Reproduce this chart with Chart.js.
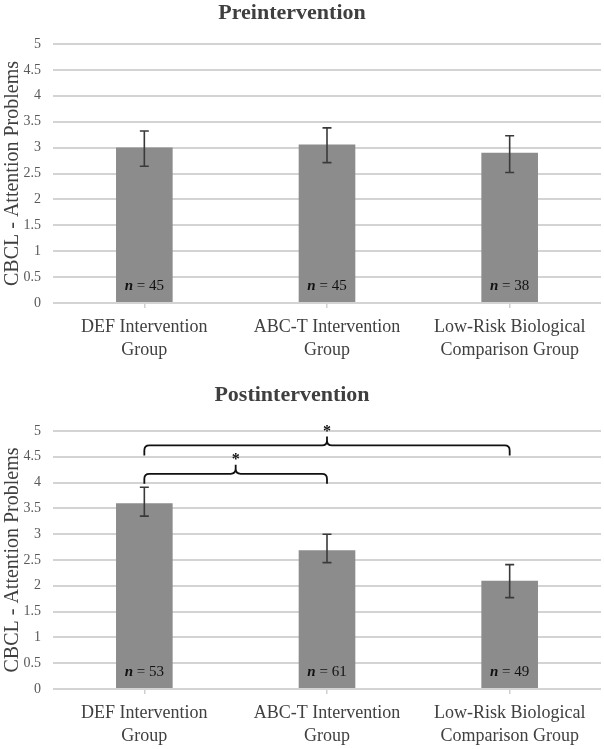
<!DOCTYPE html>
<html>
<head>
<meta charset="utf-8">
<script src="https://cdn.jsdelivr.net/npm/chart.js@4.4.0/dist/chart.umd.min.js"></script>
<style>
  html, body { margin: 0; padding: 0; background: #fff; }
  canvas { position: absolute; left: 0; }
  #pre { top: 0; }
  #post { top: 370px; }
</style>
</head>
<body>
<canvas id="pre" width="604" height="372"></canvas>
<canvas id="post" width="604" height="379"></canvas>
<script>
// Données
const groups = [['DEF Intervention', 'Group'], ['ABC-T Intervention', 'Group'], ['Low-Risk Biological', 'Comparison Group']];

const preMeans = [3.0, 3.06, 2.90];
const preErrLow = [2.64, 2.71, 2.52];
const preErrHigh = [3.32, 3.38, 3.23];
const preN = [45, 45, 38];

const postMeans = [3.60, 2.69, 2.10];
const postErrLow = [3.35, 2.45, 1.77];
const postErrHigh = [3.91, 3.00, 2.41];
const postN = [53, 61, 49];

// accolades de significativité (post)
const bracketFrom = [0, 0];
const bracketTo = [1, 2];
const bracketLevel = [4.17, 4.72];
const bracketMark = ['*', '*'];

const FONT = "'Liberation Serif', 'Times New Roman', serif";

// titre, barres d'erreur, étiquettes n, accolades
const extrasPlugin = {
    id: 'extras',
    afterDatasetsDraw(chart, args, opts) {
        const ctx = chart.ctx;
        const xs = chart.scales.x, ys = chart.scales.y;
        ctx.save();
        // titre (un peu décalé à gauche comme dans l'original)
        ctx.fillStyle = '#3f3f3f';
        ctx.font = 'bold 22px ' + FONT;
        ctx.textAlign = 'center';
        ctx.textBaseline = 'middle';
        ctx.fillText(opts.title, 292, opts.titleY);
        // barres d'erreur
        ctx.strokeStyle = '#3a3a3a';
        ctx.lineWidth = 1.6;
        opts.low.forEach((lo, i) => {
            const x = xs.getPixelForValue(i);
            const y1 = ys.getPixelForValue(lo), y2 = ys.getPixelForValue(opts.high[i]);
            ctx.beginPath();
            ctx.moveTo(x, y1); ctx.lineTo(x, y2);
            ctx.moveTo(x - 4.5, y1); ctx.lineTo(x + 4.5, y1);
            ctx.moveTo(x - 4.5, y2); ctx.lineTo(x + 4.5, y2);
            ctx.stroke();
        });
        // n = ..
        ctx.fillStyle = '#111';
        ctx.textAlign = 'left';
        opts.n.forEach((n, i) => {
            const x = xs.getPixelForValue(i);
            const y = ys.getPixelForValue(0) - 17;
            ctx.font = 'italic bold 15px ' + FONT;
            const a = 'n';
            const wa = ctx.measureText(a).width;
            ctx.font = '15px ' + FONT;
            const b = ' = ' + n;
            const wb = ctx.measureText(b).width;
            const x0 = x - (wa + wb) / 2;
            ctx.font = 'italic bold 15px ' + FONT;
            ctx.fillText(a, x0, y);
            ctx.font = '15px ' + FONT;
            ctx.fillText(b, x0 + wa, y);
        });
        // accolades
        if (opts.brackets) {
            const br = opts.brackets;
            ctx.strokeStyle = '#111';
            ctx.lineWidth = 1.8;
            br.from.forEach((f, k) => {
                const xa = xs.getPixelForValue(f), xb = xs.getPixelForValue(br.to[k]);
                const y = ys.getPixelForValue(br.level[k]);
                const xm = (xa + xb) / 2;
                const r = 5, leg = 10, tip = 9;
                ctx.beginPath();
                ctx.moveTo(xa, y + leg);
                ctx.lineTo(xa, y + r);
                ctx.quadraticCurveTo(xa, y, xa + r, y);
                ctx.lineTo(xm - r, y);
                ctx.quadraticCurveTo(xm, y, xm, y - r);
                ctx.lineTo(xm, y - tip);
                ctx.moveTo(xm, y - r);
                ctx.quadraticCurveTo(xm, y, xm + r, y);
                ctx.lineTo(xb - r, y);
                ctx.quadraticCurveTo(xb, y, xb, y + r);
                ctx.lineTo(xb, y + leg);
                ctx.stroke();
                ctx.fillStyle = '#111';
                ctx.font = 'bold 16px ' + FONT;
                ctx.textAlign = 'center';
                ctx.fillText(br.mark[k], xm, y - tip - 5);
            });
        }
        ctx.restore();
    }
};

function makeChart(id, title, titleY, padTop, axisH, means, low, high, n, brackets) {
    return new Chart(document.getElementById(id), {
        type: 'bar',
        data: {
            labels: groups,
            datasets: [{
                data: means,
                backgroundColor: '#8c8c8c',
                categoryPercentage: 1,
                barPercentage: 0.31
            }]
        },
        options: {
            responsive: false,
            animation: false,
            layout: { padding: { left: 0, right: 3, top: padTop, bottom: 0 } },
            plugins: {
                legend: { display: false },
                tooltip: { enabled: false },
                title: { display: false },
                extras: { title: title, titleY: titleY, low: low, high: high, n: n, brackets: brackets }
            },
            scales: {
                x: {
                    border: { display: false },
                    grid: { display: true, drawOnChartArea: false, offset: false, tickLength: 5, color: '#cfcfcf', lineWidth: 1.5 },
                    ticks: { color: '#404040', padding: 8, font: { family: FONT, size: 18, lineHeight: 1.28 }, maxRotation: 0 },
                    afterFit(s) { s.height = axisH; }
                },
                y: {
                    min: 0, max: 5,
                    border: { display: false },
                    grid: { color: '#d3d3d3', lineWidth: 2, drawTicks: false },
                    ticks: { stepSize: 0.5, color: '#595959', padding: 12, font: { family: FONT, size: 14 }, callback: v => String(v) },
                    title: {
                        display: true,
                        text: 'CBCL - Attention Problems',
                        color: '#404040',
                        font: { family: FONT, size: 20, lineHeight: 1.2 },
                        padding: { top: 1, bottom: 0 }
                    },
                    afterFit(s) { s.width = 53; }
                }
            }
        },
        plugins: [extrasPlugin]
    });
}

makeChart('pre', 'Preintervention', 13, 44, 69, preMeans, preErrLow, preErrHigh, preN, null);
makeChart('post', 'Postintervention', 25, 61, 60, postMeans, postErrLow, postErrHigh, postN,
    { from: bracketFrom, to: bracketTo, level: bracketLevel, mark: bracketMark });
</script>
</body>
</html>
